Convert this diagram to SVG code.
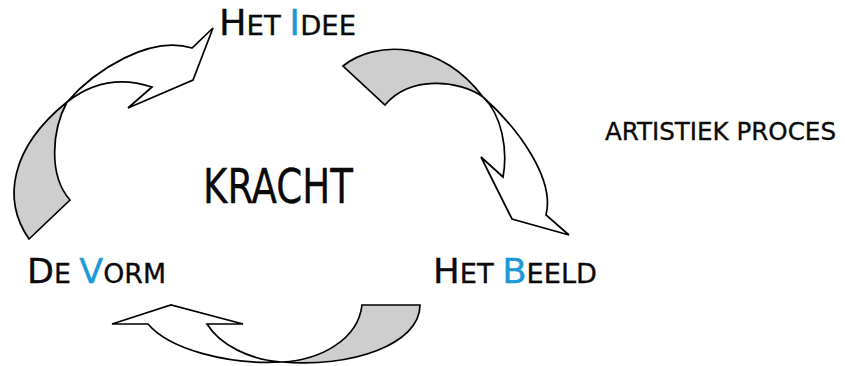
<svg xmlns="http://www.w3.org/2000/svg" width="845" height="366" viewBox="0 0 845 366">
<style>
.t{font-family:"DejaVu Sans Condensed","DejaVu Sans",sans-serif;fill:#0a0a0a;stroke:#0a0a0a;stroke-width:0.3}
.b{fill:#1a9ad8;stroke:#1a9ad8}
.g{fill:#cdcecd;stroke:#000;stroke-width:1.7;stroke-linejoin:miter}
.w{fill:#fff;stroke:#000;stroke-width:1.7;stroke-linejoin:miter}
</style>
<rect width="845" height="366" fill="#fff"/>
<g id="connectors">
<g id="arrow-vorm-idee">
<path class="g" d="M29,239 C2,200 10,148 67,102 C52,130 48,175 70,200 Z"/>
<path class="w" d="M67,102 C95,70 150,35 192,48 L213,28 L193,80 L128,108 L152,87 C125,78 95,80 67,102 Z"/>
</g>
<g id="arrow-idee-beeld">
<path class="g" d="M343,66 C375,40 440,40 483,97 C460,80 410,75 385,105 Z"/>
<path class="w" d="M483,97 C520,130 555,180 546,215 L569,235 L512,219 L481,157 L503,177 C508,150 502,115 483,97 Z"/>
</g>
<g id="arrow-beeld-vorm">
<path class="g" d="M362,305 L420,305 C420,345 350,368 282,362 C320,360 358,340 362,305 Z"/>
<path class="w" d="M282,362 C230,365 170,350 148,324 L112,324 L171,305 L243,324 L207,324 C220,345 250,360 282,362 Z"/>
</g>
</g>
<g id="node-idee">
<text class="t" x="219" y="35" textLength="137" lengthAdjust="spacingAndGlyphs"><tspan font-size="36">H</tspan><tspan font-size="27">ET </tspan><tspan font-size="36" class="b">I</tspan><tspan font-size="27">DEE</tspan></text>
</g>
<g id="node-vorm">
<text class="t" x="27" y="283" textLength="139" lengthAdjust="spacingAndGlyphs"><tspan font-size="34">D</tspan><tspan font-size="26">E </tspan><tspan font-size="34" class="b">V</tspan><tspan font-size="26">ORM</tspan></text>
</g>
<g id="node-beeld">
<text class="t" x="433" y="283" textLength="164" lengthAdjust="spacingAndGlyphs"><tspan font-size="34">H</tspan><tspan font-size="26">ET </tspan><tspan font-size="34" class="b">B</tspan><tspan font-size="26">EELD</tspan></text>
</g>
<g id="node-kracht">
<text class="t" x="203" y="203" font-size="48" textLength="150" lengthAdjust="spacingAndGlyphs">KRACHT</text>
</g>
<g id="label-proces">
<text class="t" x="605" y="140" font-size="24" textLength="231" lengthAdjust="spacingAndGlyphs">ARTISTIEK PROCES</text>
</g>
</svg>
